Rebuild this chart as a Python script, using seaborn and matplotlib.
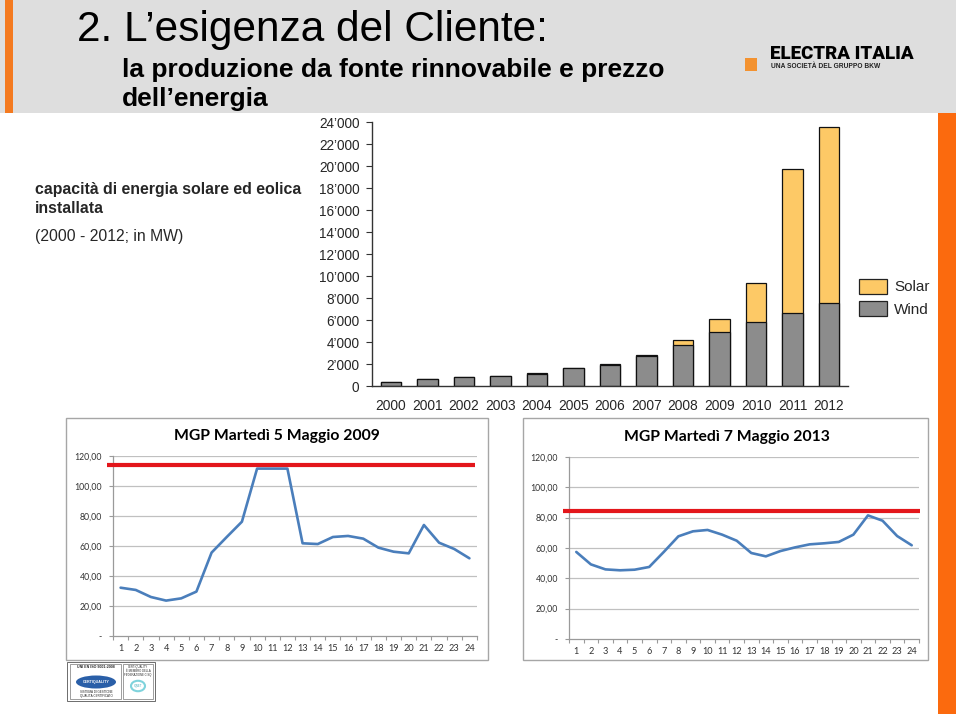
import matplotlib
matplotlib.use("Agg")
import matplotlib.pyplot as plt
from matplotlib.patches import Rectangle, Patch, Ellipse, Circle
import seaborn as sns
import pandas as pd
import numpy as np

# ---------------- data ----------------
years = ['2000', '2001', '2002', '2003', '2004', '2005', '2006',
         '2007', '2008', '2009', '2010', '2011', '2012']
wind_mw = [400, 680, 790, 880, 1050, 1600, 1900, 2700, 3700, 4910, 5820, 6670, 7510]
solar_mw = [0, 0, 0, 0, 160, 40, 70, 100, 480, 1150, 3510, 13050, 16060]
bar_yticks = [0, 2000, 4000, 6000, 8000, 10000, 12000, 14000, 16000, 18000, 20000, 22000, 24000]

hours = list(range(1, 25))
mgp_2009 = [32.2, 30.7, 26.0, 23.6, 25.1, 29.6, 55.6, 66.0, 76.2, 111.6, 111.6, 111.6,
            61.8, 61.3, 66.0, 66.7, 64.9, 58.9, 56.2, 55.1, 74.0, 62.2, 58.0, 51.8]
mgp_2013 = [57.4, 49.2, 45.9, 45.3, 45.7, 47.5, 57.4, 67.7, 71.0, 71.9, 68.8, 64.8,
            56.7, 54.5, 58.0, 60.4, 62.4, 63.1, 64.0, 68.8, 81.5, 78.0, 67.9, 61.8]
cap_2009 = 114.0
cap_2013 = 84.4
price_yticks = [0, 20, 40, 60, 80, 100, 120]
price_ylabels = ['-', '20,00', '40,00', '60,00', '80,00', '100,00', '120,00']

title_main = "2. L\u2019esigenza del Cliente:"
subtitle_1 = "la produzione da fonte rinnovabile e prezzo"
subtitle_2 = "dell\u2019energia"
side_1 = "capacit\u00e0 di energia solare ed eolica"
side_2 = "installata"
side_3 = "(2000 - 2012; in MW)"
chart_title_1 = "MGP Marted\u00ec 5 Maggio 2009"
chart_title_2 = "MGP Marted\u00ec 7 Maggio 2013"
legend_labels = ['Solar', 'Wind']

# ---------------- style ----------------
sns.set_style("white")
plt.rcParams['font.family'] = ['Liberation Sans', 'DejaVu Sans']

W, H = 960, 716
fig = plt.figure(figsize=(W / 100, H / 100), dpi=100)
fig.patch.set_facecolor('white')


def fx(x):
    return x / W


def fy(y):
    return 1 - y / H


def px_axes(l, t, r, b):
    return fig.add_axes([l / W, 1 - b / H, (r - l) / W, (b - t) / H])


def frect(l, t, r, b, **kw):
    fig.patches.append(Rectangle((fx(l), fy(b)), fx(r - l), (b - t) / H,
                                 transform=fig.transFigure, **kw))


ORANGE = '#fb6a0e'
# header
frect(0, 0, 956, 113, facecolor='#dedede', edgecolor='none', zorder=-2)
frect(5, 0, 13, 113, facecolor='#f47a20', edgecolor='none', zorder=-1)
frect(938, 113, 956, 714, facecolor=ORANGE, edgecolor='none', zorder=-1)

fig.text(fx(77), fy(41), title_main, fontsize=30.5, color='black', va='baseline', ha='left')
fig.text(fx(122), fy(77), subtitle_1, fontsize=19, fontweight='bold', color='black',
         va='baseline', ha='left')
fig.text(fx(122), fy(106), subtitle_2, fontsize=19, fontweight='bold', color='black',
         va='baseline', ha='left')

# logo
frect(745, 58, 757, 71, facecolor='#f39230', edgecolor='none', zorder=-1)
fig.text(fx(770), fy(59), "ELECTRA ITALIA", fontsize=13.5, fontweight='heavy',
         family=['Roboto', 'DejaVu Sans'], va='baseline', ha='left', color='black')
fig.text(fx(771), fy(68.5), "UNA SOCIET\u00c0 DEL GRUPPO BKW", fontsize=4.8, fontweight='bold',
         va='baseline', ha='left', color='#222222')

# side text
fig.text(fx(35), fy(194), side_1, fontsize=11.4, fontweight='bold', va='baseline', ha='left')
fig.text(fx(35), fy(213), side_2, fontsize=11.4, fontweight='bold', va='baseline', ha='left')
fig.text(fx(35), fy(241), side_3, fontsize=11.3, va='baseline', ha='left')

# ---------------- bar chart ----------------
total_mw = [w + s for w, s in zip(wind_mw, solar_mw)]
df_bar = pd.DataFrame({'year': years, 'wind': wind_mw, 'total': total_mw})
YELLOW = '#fdc966'
GRAY = '#8c8c8c'
axb = px_axes(372, 122, 848, 386)
sns.barplot(data=df_bar, x='year', y='total', color=YELLOW, saturation=1, width=0.57,
            edgecolor='#111111', linewidth=0.9, ax=axb)
sns.barplot(data=df_bar, x='year', y='wind', color=GRAY, saturation=1, width=0.57,
            edgecolor='#111111', linewidth=0.9, ax=axb)
axb.set_xlim(-0.52, 12.52)
axb.set_ylim(0, 24000)
axb.set_yticks(bar_yticks)
axb.set_yticklabels(['0' if v == 0 else f"{v // 1000}\u2019000" for v in bar_yticks])
axb.set_xlabel('')
axb.set_ylabel('')
for s in ['top', 'right']:
    axb.spines[s].set_visible(False)
for s in ['left', 'bottom']:
    axb.spines[s].set_color('#333333')
    axb.spines[s].set_linewidth(1.0)
axb.tick_params(axis='y', left=True, length=4, width=0.8, color='#333333',
                labelsize=9.8, pad=5)
axb.tick_params(axis='x', bottom=False, labelsize=9.9, pad=6)
axb.set_facecolor('white')

handles = [Patch(facecolor=YELLOW, edgecolor='#222222', linewidth=0.9),
           Patch(facecolor=GRAY, edgecolor='#222222', linewidth=0.9)]
fig.legend(handles, legend_labels, loc='upper left',
           bbox_to_anchor=(fx(854), fy(274)), frameon=False, fontsize=11,
           handlelength=1.83, handleheight=1.18, labelspacing=0.42, handletextpad=0.5,
           borderaxespad=0, borderpad=0.3)

# ---------------- price charts ----------------
LINE_BLUE = '#4a7ebb'
GRID = '#c0c0c0'


def price_chart(box, plot, values, cap, cap_span, title, title_xy):
    # outer chart frame (behind the axes)
    frect(*box, facecolor='white', edgecolor='#a6a6a6', linewidth=1.0, zorder=-1)
    ax = px_axes(*plot)
    ax.set_facecolor('none')
    df = pd.DataFrame({'hour': hours, 'price': values})
    sns.lineplot(data=df, x='hour', y='price', color=LINE_BLUE, linewidth=1.9, ax=ax, zorder=4)
    ax.set_xlim(0.5, 24.5)
    ax.set_ylim(0, 120)
    ax.set_yticks(price_yticks)
    ax.set_yticklabels(price_ylabels)
    ax.set_xticks(hours)
    ax.set_xticks(np.arange(0.5, 25, 1.0), minor=True)
    ax.set_xlabel('')
    ax.set_ylabel('')
    for v in price_yticks[1:]:
        ax.axhline(v, color=GRID, linewidth=0.9, zorder=1)
    for s in ['top', 'right']:
        ax.spines[s].set_visible(False)
    for s in ['left', 'bottom']:
        ax.spines[s].set_color('#9a9a9a')
        ax.spines[s].set_linewidth(0.9)
    ax.tick_params(axis='y', left=True, length=3, width=0.8, color='#9a9a9a', labelsize=6.3,
                   pad=5, labelcolor='#333333')
    ax.tick_params(axis='x', which='major', bottom=False, labelsize=6.6, pad=2,
                   labelcolor='#333333')
    ax.tick_params(axis='x', which='minor', bottom=True, length=3, width=0.8, color='#9a9a9a')
    for lab in ax.get_xticklabels() + ax.get_yticklabels():
        lab.set_family(['Lato', 'DejaVu Sans'])
    ax.plot(cap_span, [cap, cap], color='#e3161b', linewidth=3.0, clip_on=False, zorder=5,
            solid_capstyle='butt')
    fig.text(fx(title_xy[0]), fy(title_xy[1]), title, fontsize=11.3, fontweight='bold',
             family=['Lato', 'DejaVu Sans'], ha='center', va='center', color='black')
    return ax


price_chart((66, 418, 488, 660), (113, 456, 477, 636), mgp_2009, cap_2009,
            [0.1, 24.35], chart_title_1, (277, 436))
price_chart((523, 418, 928, 660), (569, 457, 919, 639), mgp_2013, cap_2013,
            [0.09, 24.55], chart_title_2, (727, 437))

# ---------------- certification marks ----------------
frect(67, 662, 155, 701, facecolor='white', edgecolor='#555555', linewidth=0.6, zorder=1)
frect(70, 664, 121, 699, facecolor='white', edgecolor='#777777', linewidth=0.5, zorder=2)
frect(123, 664, 153, 699, facecolor='white', edgecolor='#777777', linewidth=0.5, zorder=2)
fig.patches.append(Ellipse((fx(96), fy(682)), 40 / W, 13 / H, transform=fig.transFigure,
                           facecolor='#2a5fa8', edgecolor='none', zorder=3))
fig.patches.append(Circle((fx(138), fy(686)), 7 / W, transform=fig.transFigure,
                          facecolor='white', edgecolor='#7fd3dc', linewidth=1.5, zorder=3))
fig.text(fx(96), fy(667), "UNI EN ISO 9001:2008", fontsize=2.6, ha='center', va='center',
         fontweight='bold')
fig.text(fx(96), fy(682), "CERTIQUALITY", fontsize=2.6, ha='center', va='center',
         color='white', fontweight='bold')
fig.text(fx(96), fy(694), "SISTEMA DI GESTIONE\nQUALIT\u00c0 CERTIFICATO", fontsize=2.2,
         ha='center', va='center', linespacing=1.0)
fig.text(fx(138), fy(671), "CERTIQUALITY\n\u00c8 MEMBRO DELLA\nFEDERAZIONE CISQ",
         fontsize=2.0, ha='center', va='center', linespacing=1.0)
fig.text(fx(138), fy(686), "IQNET", fontsize=2.0, ha='center', va='center', color='#3aa7b5')

fig.savefig('out.png', dpi=100, facecolor='white')
